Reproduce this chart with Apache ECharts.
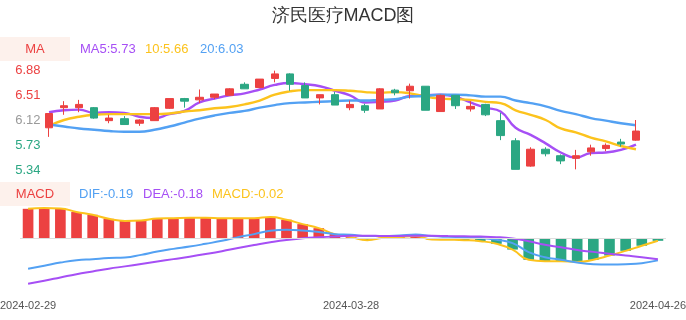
<!DOCTYPE html>
<html lang="zh">
<head>
<meta charset="UTF-8">
<title>济民医疗MACD图</title>
<script src="https://cdn.jsdelivr.net/npm/echarts@6/dist/echarts.min.js"></script>
<style>
  html, body { margin: 0; padding: 0; background: #fff; }
  #chart { width: 686px; height: 320px; }
</style>
</head>
<body>
<div id="chart"></div>
<script>
var dates = ['2024-02-29','2024-03-01','2024-03-04','2024-03-05','2024-03-06','2024-03-07','2024-03-08',
  '2024-03-11','2024-03-12','2024-03-13','2024-03-14','2024-03-15','2024-03-18','2024-03-19','2024-03-20',
  '2024-03-21','2024-03-22','2024-03-25','2024-03-26','2024-03-27','2024-03-28','2024-03-29','2024-04-01',
  '2024-04-02','2024-04-03','2024-04-08','2024-04-09','2024-04-10','2024-04-11','2024-04-12','2024-04-15',
  '2024-04-16','2024-04-17','2024-04-18','2024-04-19','2024-04-22','2024-04-23','2024-04-24','2024-04-25','2024-04-26'];

// K线
var opens  = [5.99,6.30,6.30,6.30,6.10,6.13,6.06,6.10,6.29,6.44,6.42,6.46,6.49,6.66,6.61,6.75,6.82,6.64,6.45,6.50,
              6.30,6.33,6.28,6.57,6.56,6.63,6.24,6.49,6.28,6.35,6.10,5.79,5.40,5.66,5.56,5.52,5.62,5.67,5.77,5.80];
var closes = [6.21,6.33,6.35,6.14,6.14,6.04,6.11,6.30,6.44,6.40,6.46,6.51,6.59,6.59,6.74,6.82,6.66,6.45,6.50,6.34,
              6.35,6.26,6.59,6.53,6.63,6.26,6.49,6.33,6.32,6.19,5.87,5.35,5.66,5.59,5.48,5.56,5.68,5.72,5.74,5.94];
var lows   = [5.85,6.19,6.23,6.13,6.06,6.04,6.02,6.10,6.28,6.30,6.37,6.43,6.48,6.59,6.60,6.69,6.56,6.45,6.35,6.34,
              6.26,6.22,6.28,6.49,6.44,6.26,6.24,6.28,6.24,6.17,5.80,5.35,5.39,5.55,5.43,5.35,5.56,5.63,5.70,5.79];
var highs  = [6.21,6.40,6.42,6.31,6.19,6.17,6.12,6.31,6.44,6.45,6.58,6.51,6.60,6.69,6.74,6.87,6.83,6.69,6.50,6.54,
              6.41,6.36,6.60,6.59,6.67,6.63,6.50,6.49,6.40,6.36,6.22,5.83,5.69,5.69,5.58,5.65,5.73,5.75,5.82,6.11];

// 均线
var ma5  = [6.23,6.26,6.27,6.22,6.23,6.22,6.16,6.14,6.20,6.25,6.38,6.44,6.49,6.52,6.58,6.65,6.68,6.66,6.63,6.56,
            6.49,6.38,6.39,6.41,6.48,6.49,6.50,6.47,6.38,6.30,6.24,5.99,5.88,5.75,5.61,5.53,5.60,5.61,5.65,5.73];
var ma10 = [6.02,6.11,6.16,6.19,6.20,6.20,6.20,6.20,6.21,6.24,6.26,6.29,6.31,6.35,6.41,6.50,6.55,6.57,6.57,6.57,
            6.56,6.54,6.53,6.54,6.52,6.47,6.44,6.43,6.42,6.39,6.37,6.26,6.19,6.11,5.98,5.92,5.84,5.78,5.71,5.66];
var ma20 = [6.04,6.01,5.98,5.96,5.94,5.93,5.93,5.96,6.01,6.07,6.13,6.18,6.22,6.25,6.30,6.34,6.37,6.38,6.39,6.40,
            6.41,6.41,6.42,6.43,6.47,6.48,6.50,6.50,6.49,6.47,6.47,6.41,6.37,6.32,6.25,6.20,6.14,6.10,6.06,6.03];

// MACD
var macds = [0.258,0.264,0.261,0.230,0.206,0.171,0.153,0.157,0.174,0.177,0.180,0.180,0.177,0.177,0.177,0.186,0.163,0.125,0.090,0.038,
             0.012,-0.014,0.006,0.012,0.021,-0.009,-0.011,-0.014,-0.023,-0.046,-0.096,-0.185,-0.197,-0.197,-0.203,-0.185,-0.148,-0.107,-0.063,-0.02];
var difs  = [-0.263,-0.237,-0.209,-0.188,-0.179,-0.170,-0.165,-0.142,-0.113,-0.090,-0.070,-0.046,-0.020,0.012,0.038,0.067,0.076,0.070,0.056,0.038,
             0.032,0.021,0.021,0.026,0.035,0.021,0.015,0.012,0.006,-0.011,-0.040,-0.118,-0.162,-0.185,-0.209,-0.223,-0.226,-0.223,-0.214,-0.19];
var deas  = [-0.392,-0.366,-0.338,-0.310,-0.286,-0.262,-0.242,-0.221,-0.200,-0.179,-0.158,-0.135,-0.110,-0.082,-0.056,-0.032,-0.012,0.002,0.011,0.018,
             0.023,0.025,0.022,0.022,0.024,0.024,0.021,0.019,0.017,0.012,0.000,-0.023,-0.055,-0.075,-0.100,-0.116,-0.133,-0.148,-0.162,-0.18];

var yTickLabels = ['5.34','5.73','6.12','6.51','6.88'];
var xLabelIndex = [0, 20, 39];

var red = '#ec4141', green = '#2ba783', purple = '#a64ff5', yellow = '#fcc31d', blue = '#53a1f3', gray = '#9a9a9a';

var kdata = dates.map(function (d, i) { return [opens[i], closes[i], lows[i], highs[i]]; });
function last(a) { return a[a.length - 1].toFixed(2); }

var chart = echarts.init(document.getElementById('chart'));
chart.setOption({
    animation: false,
    title: {
        text: '济民医疗MACD图',
        left: 'center',
        top: 2,
        textStyle: { fontSize: 18, fontWeight: 'normal', color: '#333' }
    },
    grid: [
        { left: 41.5, right: 42.5, top: 70, height: 100, outerBoundsMode: 'none' },
        { left: 20, right: 20, top: 208, height: 76, outerBoundsMode: 'none' }
    ],
    xAxis: [
        { type: 'category', gridIndex: 0, data: dates, show: false },
        {
            type: 'category', gridIndex: 1, data: dates,
            axisLine: { show: false }, axisTick: { show: false },
            axisLabel: {
                interval: function (i) { return xLabelIndex.indexOf(i) >= 0; },
                color: '#555', fontSize: 11, margin: 16
            }
        }
    ],
    yAxis: [
        { type: 'value', gridIndex: 0, min: 5.34, max: 6.88, show: false },
        {
            type: 'value', gridIndex: 0, position: 'left', min: 0, max: 4, interval: 1,
            axisLine: { show: false }, axisTick: { show: false }, splitLine: { show: false },
            axisLabel: {
                margin: 1, fontSize: 13,
                formatter: function (v) { return yTickLabels[v]; },
                color: function (v) {
                    var t = yTickLabels[Math.round(v)];
                    if (t > yTickLabels[2]) return red;
                    if (t < yTickLabels[2]) return green;
                    return gray;
                }
            }
        },
        { type: 'value', gridIndex: 1, min: -0.395, max: 0.265, show: false }
    ],
    graphic: [
        { type: 'rect', x: 0, y: 37, shape: { width: 70, height: 24 }, style: { fill: '#fdf1ec' } },
        { type: 'text', x: 35, y: 49, style: { text: 'MA', fill: red, font: '13px sans-serif', textAlign: 'center', textVerticalAlign: 'middle' } },
        { type: 'text', x: 80, y: 49, style: { text: 'MA5:' + last(ma5), fill: purple, font: '13px sans-serif', textVerticalAlign: 'middle' } },
        { type: 'text', x: 145, y: 49, style: { text: '10:' + last(ma10), fill: yellow, font: '13px sans-serif', textVerticalAlign: 'middle' } },
        { type: 'text', x: 200, y: 49, style: { text: '20:' + last(ma20), fill: blue, font: '13px sans-serif', textVerticalAlign: 'middle' } },
        { type: 'rect', x: 0, y: 182, shape: { width: 70, height: 24 }, style: { fill: '#fdf1ec' } },
        { type: 'text', x: 35, y: 194, style: { text: 'MACD', fill: red, font: '13px sans-serif', textAlign: 'center', textVerticalAlign: 'middle' } },
        { type: 'text', x: 79, y: 194, style: { text: 'DIF:' + last(difs), fill: blue, font: '13px sans-serif', textVerticalAlign: 'middle' } },
        { type: 'text', x: 143, y: 194, style: { text: 'DEA:' + last(deas), fill: purple, font: '13px sans-serif', textVerticalAlign: 'middle' } },
        { type: 'text', x: 212, y: 194, style: { text: 'MACD:' + last(macds), fill: yellow, font: '13px sans-serif', textVerticalAlign: 'middle' } }
    ],
    series: [
        { name: 'MA5', type: 'line', xAxisIndex: 0, yAxisIndex: 0, data: ma5, smooth: true, symbol: 'none', lineStyle: { color: purple, width: 2.4 } },
        { name: 'MA10', type: 'line', xAxisIndex: 0, yAxisIndex: 0, data: ma10, smooth: true, symbol: 'none', lineStyle: { color: yellow, width: 2.4 } },
        { name: 'MA20', type: 'line', xAxisIndex: 0, yAxisIndex: 0, data: ma20, smooth: true, symbol: 'none', lineStyle: { color: blue, width: 2.4 } },
        {
            name: 'K', type: 'candlestick', xAxisIndex: 0, yAxisIndex: 0, data: kdata, barWidth: 8, z: 5,
            itemStyle: { color: red, color0: green, borderColor: red, borderColor0: green }
        },
        {
            name: 'MACD柱', type: 'bar', xAxisIndex: 1, yAxisIndex: 2, data: macds, barWidth: '66%',
            itemStyle: { color: function (p) { return p.value >= 0 ? red : green; } },
            markLine: {
                silent: true, symbol: 'none', label: { show: false },
                lineStyle: { color: '#dddddd', width: 1, type: 'solid' },
                data: [{ yAxis: 0 }]
            }
        },
        { name: 'MACD', type: 'line', xAxisIndex: 1, yAxisIndex: 2, data: macds, smooth: true, symbol: 'none', lineStyle: { color: yellow, width: 2 } },
        { name: 'DIF', type: 'line', xAxisIndex: 1, yAxisIndex: 2, data: difs, smooth: true, symbol: 'none', lineStyle: { color: blue, width: 2 } },
        { name: 'DEA', type: 'line', xAxisIndex: 1, yAxisIndex: 2, data: deas, smooth: true, symbol: 'none', lineStyle: { color: purple, width: 2 } }
    ]
});
</script>
</body>
</html>
